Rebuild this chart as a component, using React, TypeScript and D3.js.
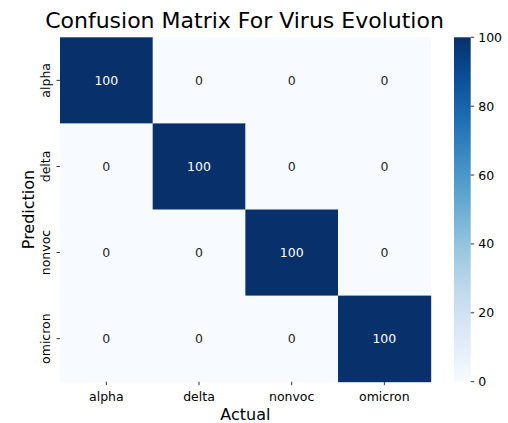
import React from "react";
import * as d3 from "d3";

const categories = ["alpha", "delta", "nonvoc", "omicron"];
// rows = prediction, columns = actual
const matrix = [
  [100, 0, 0, 0],
  [0, 100, 0, 0],
  [0, 0, 100, 0],
  [0, 0, 0, 100],
];
const colorTicks = [0, 20, 40, 60, 80, 100];

const W = 508;
const H = 423;
const L = 60, R = 430.7, T = 37.3, B = 381.7;
const CB_L = 454, CB_R = 470.7;
const FONT = "DejaVu Sans, sans-serif";

export default function App() {
  const x = d3.scaleBand().domain(categories).range([L, R]).padding(0);
  const y = d3.scaleBand().domain(categories).range([T, B]).padding(0);
  const color = d3.scaleSequential(d3.interpolateBlues).domain([0, 100]);
  const cy = d3.scaleLinear().domain([0, 100]).range([B, T]);
  const stops = d3.range(0, 1.0001, 0.05);

  const cells: { r: string; c: string; v: number }[] = [];
  matrix.forEach((row, i) =>
    row.forEach((v, j) => cells.push({ r: categories[i], c: categories[j], v }))
  );

  return (
    <svg
      width={W}
      height={H}
      style={{ position: "absolute", left: 0, top: 0, background: "#fff" }}
      fontFamily={FONT}
    >
      <defs>
        <linearGradient id="cb" x1="0" y1="1" x2="0" y2="0">
          {stops.map((s) => (
            <stop key={s} offset={s} stopColor={color(s * 100)} />
          ))}
        </linearGradient>
      </defs>
      <text x={244.5} y={28} textAnchor="middle" fontSize={22} fill="#000">
        Confusion Matrix For Virus Evolution
      </text>
      {cells.map((d) => (
        <g key={d.r + d.c}>
          <rect
            x={x(d.c)!}
            y={y(d.r)!}
            width={x.bandwidth() + 0.5}
            height={y.bandwidth() + 0.5}
            fill={color(d.v)}
          />
          <text
            x={x(d.c)! + x.bandwidth() / 2}
            y={y(d.r)! + y.bandwidth() / 2}
            dy="0.36em"
            textAnchor="middle"
            fontSize={12.5}
            fill={d.v > 50 ? "#ffffff" : "#262626"}
          >
            {d.v}
          </text>
        </g>
      ))}
      {/* x ticks */}
      {categories.map((c) => {
        const cx = x(c)! + x.bandwidth() / 2;
        return (
          <g key={"x" + c}>
            <line x1={cx} x2={cx} y1={B} y2={B + 3.5} stroke="#000" strokeWidth={0.8} />
            <text x={cx} y={401} textAnchor="middle" fontSize={12.5} fill="#000">
              {c}
            </text>
          </g>
        );
      })}
      {/* y ticks */}
      {categories.map((c) => {
        const yy = y(c)! + y.bandwidth() / 2;
        return (
          <g key={"y" + c}>
            <line x1={L - 3.5} x2={L} y1={yy} y2={yy} stroke="#000" strokeWidth={0.8} />
            <text
              transform={`translate(50,${yy}) rotate(-90)`}
              textAnchor="middle"
              fontSize={12.5}
              fill="#000"
            >
              {c}
            </text>
          </g>
        );
      })}
      <text x={(L + R) / 2} y={420} textAnchor="middle" fontSize={16} fill="#000">
        Actual
      </text>
      <text
        transform={`translate(33.5,${(T + B) / 2}) rotate(-90)`}
        textAnchor="middle"
        fontSize={16}
        fill="#000"
      >
        Prediction
      </text>
      {/* colorbar */}
      <rect x={CB_L} y={T} width={CB_R - CB_L} height={B - T} fill="url(#cb)" />
      {colorTicks.map((t) => (
        <g key={"c" + t}>
          <line x1={CB_R} x2={CB_R + 3.5} y1={cy(t)} y2={cy(t)} stroke="#000" strokeWidth={0.8} />
          <text x={CB_R + 7.5} y={cy(t)} dy="0.36em" fontSize={12.5} fill="#000">
            {t}
          </text>
        </g>
      ))}
    </svg>
  );
}
